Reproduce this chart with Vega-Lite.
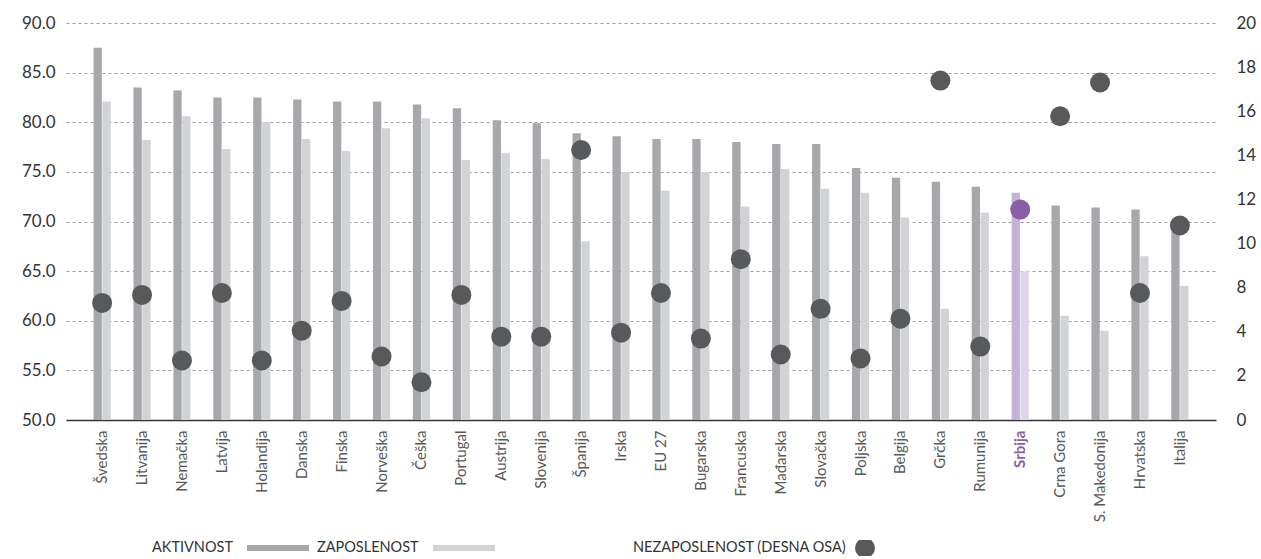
{
  "$schema": "https://vega.github.io/schema/vega-lite/v6.json",
  "width": 1150,
  "height": 397,
  "autosize": {"type": "none"},
  "padding": {"left": 66, "top": 23, "right": 45, "bottom": 139},
  "background": "white",
  "config": {
    "view": {"stroke": null},
    "font": "Lato",
    "legend": {"padding": 0, "titleFont": "Lato", "titleFontWeight": "normal", "titleColor": "#333", "titleFontSize": 14.5, "titleOrient": "left", "titlePadding": 14, "titleLimit": 500, "clipHeight": 16, "symbolStrokeWidth": 0, "orient": "none", "labelFontSize": 1, "labelOffset": 0}
  },
  "datasets": {
    "bars": [
      {"country": "Švedska", "series": "AKTIVNOST", "value": 87.5}, {"country": "Švedska", "series": "ZAPOSLENOST", "value": 82.1},
      {"country": "Litvanija", "series": "AKTIVNOST", "value": 83.5}, {"country": "Litvanija", "series": "ZAPOSLENOST", "value": 78.2},
      {"country": "Nemačka", "series": "AKTIVNOST", "value": 83.2}, {"country": "Nemačka", "series": "ZAPOSLENOST", "value": 80.6},
      {"country": "Latvija", "series": "AKTIVNOST", "value": 82.5}, {"country": "Latvija", "series": "ZAPOSLENOST", "value": 77.3},
      {"country": "Holandija", "series": "AKTIVNOST", "value": 82.5}, {"country": "Holandija", "series": "ZAPOSLENOST", "value": 80.0},
      {"country": "Danska", "series": "AKTIVNOST", "value": 82.3}, {"country": "Danska", "series": "ZAPOSLENOST", "value": 78.3},
      {"country": "Finska", "series": "AKTIVNOST", "value": 82.1}, {"country": "Finska", "series": "ZAPOSLENOST", "value": 77.1},
      {"country": "Norveška", "series": "AKTIVNOST", "value": 82.1}, {"country": "Norveška", "series": "ZAPOSLENOST", "value": 79.4},
      {"country": "Češka", "series": "AKTIVNOST", "value": 81.8}, {"country": "Češka", "series": "ZAPOSLENOST", "value": 80.4},
      {"country": "Portugal", "series": "AKTIVNOST", "value": 81.4}, {"country": "Portugal", "series": "ZAPOSLENOST", "value": 76.2},
      {"country": "Austrija", "series": "AKTIVNOST", "value": 80.2}, {"country": "Austrija", "series": "ZAPOSLENOST", "value": 76.9},
      {"country": "Slovenija", "series": "AKTIVNOST", "value": 79.9}, {"country": "Slovenija", "series": "ZAPOSLENOST", "value": 76.3},
      {"country": "Španija", "series": "AKTIVNOST", "value": 78.9}, {"country": "Španija", "series": "ZAPOSLENOST", "value": 68.0},
      {"country": "Irska", "series": "AKTIVNOST", "value": 78.6}, {"country": "Irska", "series": "ZAPOSLENOST", "value": 75.0},
      {"country": "EU 27", "series": "AKTIVNOST", "value": 78.3}, {"country": "EU 27", "series": "ZAPOSLENOST", "value": 73.1},
      {"country": "Bugarska", "series": "AKTIVNOST", "value": 78.3}, {"country": "Bugarska", "series": "ZAPOSLENOST", "value": 75.0},
      {"country": "Francuska", "series": "AKTIVNOST", "value": 78.0}, {"country": "Francuska", "series": "ZAPOSLENOST", "value": 71.5},
      {"country": "Mađarska", "series": "AKTIVNOST", "value": 77.8}, {"country": "Mađarska", "series": "ZAPOSLENOST", "value": 75.3},
      {"country": "Slovačka", "series": "AKTIVNOST", "value": 77.8}, {"country": "Slovačka", "series": "ZAPOSLENOST", "value": 73.3},
      {"country": "Poljska", "series": "AKTIVNOST", "value": 75.4}, {"country": "Poljska", "series": "ZAPOSLENOST", "value": 72.9},
      {"country": "Belgija", "series": "AKTIVNOST", "value": 74.4}, {"country": "Belgija", "series": "ZAPOSLENOST", "value": 70.4},
      {"country": "Grčka", "series": "AKTIVNOST", "value": 74.0}, {"country": "Grčka", "series": "ZAPOSLENOST", "value": 61.2},
      {"country": "Rumunija", "series": "AKTIVNOST", "value": 73.5}, {"country": "Rumunija", "series": "ZAPOSLENOST", "value": 70.9},
      {"country": "Srbija", "series": "AKTIVNOST", "value": 72.9}, {"country": "Srbija", "series": "ZAPOSLENOST", "value": 65.0},
      {"country": "Crna Gora", "series": "AKTIVNOST", "value": 71.6}, {"country": "Crna Gora", "series": "ZAPOSLENOST", "value": 60.5},
      {"country": "S. Makedonija", "series": "AKTIVNOST", "value": 71.4}, {"country": "S. Makedonija", "series": "ZAPOSLENOST", "value": 59.0},
      {"country": "Hrvatska", "series": "AKTIVNOST", "value": 71.2}, {"country": "Hrvatska", "series": "ZAPOSLENOST", "value": 66.5},
      {"country": "Italija", "series": "AKTIVNOST", "value": 69.9}, {"country": "Italija", "series": "ZAPOSLENOST", "value": 63.5}
    ],
    "dots": [
      {"country": "Švedska", "value": 5.9}, {"country": "Litvanija", "value": 6.3}, {"country": "Nemačka", "value": 3.0},
      {"country": "Latvija", "value": 6.4}, {"country": "Holandija", "value": 3.0}, {"country": "Danska", "value": 4.5},
      {"country": "Finska", "value": 6.0}, {"country": "Norveška", "value": 3.2}, {"country": "Češka", "value": 1.9},
      {"country": "Portugal", "value": 6.3}, {"country": "Austrija", "value": 4.2}, {"country": "Slovenija", "value": 4.2},
      {"country": "Španija", "value": 13.6}, {"country": "Irska", "value": 4.4}, {"country": "EU 27", "value": 6.4},
      {"country": "Bugarska", "value": 4.1}, {"country": "Francuska", "value": 8.1}, {"country": "Mađarska", "value": 3.3},
      {"country": "Slovačka", "value": 5.6}, {"country": "Poljska", "value": 3.1}, {"country": "Belgija", "value": 5.1},
      {"country": "Grčka", "value": 17.1}, {"country": "Rumunija", "value": 3.7}, {"country": "Srbija", "value": 10.6},
      {"country": "Crna Gora", "value": 15.3}, {"country": "S. Makedonija", "value": 17.0}, {"country": "Hrvatska", "value": 6.4},
      {"country": "Italija", "value": 9.8}
    ]
  },
  "encoding": {
    "x": {
      "field": "country", "type": "nominal", "sort": null,
      "scale": {"paddingInner": 0.57, "paddingOuter": 0.69},
      "axis": {
        "title": null, "labelAngle": -90, "labelFontSize": 15, "labelPadding": 10, "ticks": false,
        "domainColor": "#333", "domainWidth": 1.5, "labelFont": "Lato",
        "labelColor": {"condition": {"test": "datum.value === 'Srbija'", "value": "#8a5fa8"}, "value": "#58595b"},
        "labelFontWeight": {"condition": {"test": "datum.value === 'Srbija'", "value": "bold"}, "value": "normal"}
      }
    }
  },
  "layer": [
    {
      "data": {"name": "bars"},
      "encoding": {
        "xOffset": {"field": "series", "type": "nominal", "scale": {"domain": ["AKTIVNOST", "ZAPOSLENOST"], "paddingInner": 0.06}},
        "y": {
          "field": "value", "type": "quantitative",
          "scale": {"domain": [50, 90], "zero": false, "nice": false},
          "axis": {
            "title": null, "values": [50, 55, 60, 65, 70, 75, 80, 85, 90], "format": ".1f",
            "grid": true, "gridDash": [3, 3], "gridColor": "#9d9d9d", "domain": false, "ticks": false,
            "labelFontSize": 17, "labelColor": "#333", "labelPadding": 11, "labelFont": "Lato"
          }
        },
        "y2": {"datum": 50}
      },
      "layer": [
        {
          "transform": [{"filter": "datum.series === 'AKTIVNOST'"}],
          "mark": {"type": "bar"},
          "encoding": {
            "color": {
              "condition": {"test": "datum.country === 'Srbija'", "value": "#c4b2d7"},
              "datum": "AKTIVNOST",
              "scale": {"domain": ["AKTIVNOST"], "range": ["#a7a8ab"]},
              "legend": {"title": "AKTIVNOST", "legendX": 86, "legendY": 517, "labelExpr": "''", "symbolType": "M-1,-0.1H1V0.1H-1Z", "symbolSize": 3844}
            }
          }
        },
        {
          "transform": [{"filter": "datum.series === 'ZAPOSLENOST'"}],
          "mark": {"type": "bar"},
          "encoding": {
            "fill": {
              "condition": {"test": "datum.country === 'Srbija'", "value": "#ded5ea"},
              "datum": "ZAPOSLENOST",
              "scale": {"domain": ["ZAPOSLENOST"], "range": ["#d2d3d5"]},
              "legend": {"title": "ZAPOSLENOST", "legendX": 251, "legendY": 517, "labelExpr": "''", "symbolType": "M-1,-0.1H1V0.1H-1Z", "symbolSize": 3844}
            }
          }
        }
      ]
    },
    {
      "data": {"name": "dots"},
      "mark": {"type": "point", "filled": true, "opacity": 1, "size": 400},
      "encoding": {
        "y": {
          "field": "value", "type": "quantitative",
          "scale": {"domain": [0, 20], "nice": false},
          "axis": {
            "orient": "right", "title": null, "grid": false, "domain": false, "ticks": false,
            "values": [0, 2.2222222, 4.4444444, 6.6666667, 8.8888889, 11.1111111, 13.3333333, 15.5555556, 17.7777778, 20],
            "labelExpr": "['0','2','4','8','10','12','14','16','18','20'][round(datum.value*9/20)]",
            "labelFontSize": 17, "labelColor": "#333", "labelPadding": 20, "labelFont": "Lato"
          }
        },
        "shape": {
          "datum": "NEZAPOSLENOST (DESNA OSA)",
          "scale": {"domain": ["NEZAPOSLENOST (DESNA OSA)"], "range": ["circle"]},
          "legend": {"title": "NEZAPOSLENOST (DESNA OSA)", "legendX": 567, "legendY": 517, "labelExpr": "''", "symbolSize": 400, "symbolFillColor": "#58595b", "symbolType": "circle", "titlePadding": 8}
        },
        "color": {"condition": {"test": "datum.country === 'Srbija'", "value": "#8a5fa8"}, "value": "#58595b"}
      }
    }
  ],
  "resolve": {"scale": {"y": "independent"}}
}
